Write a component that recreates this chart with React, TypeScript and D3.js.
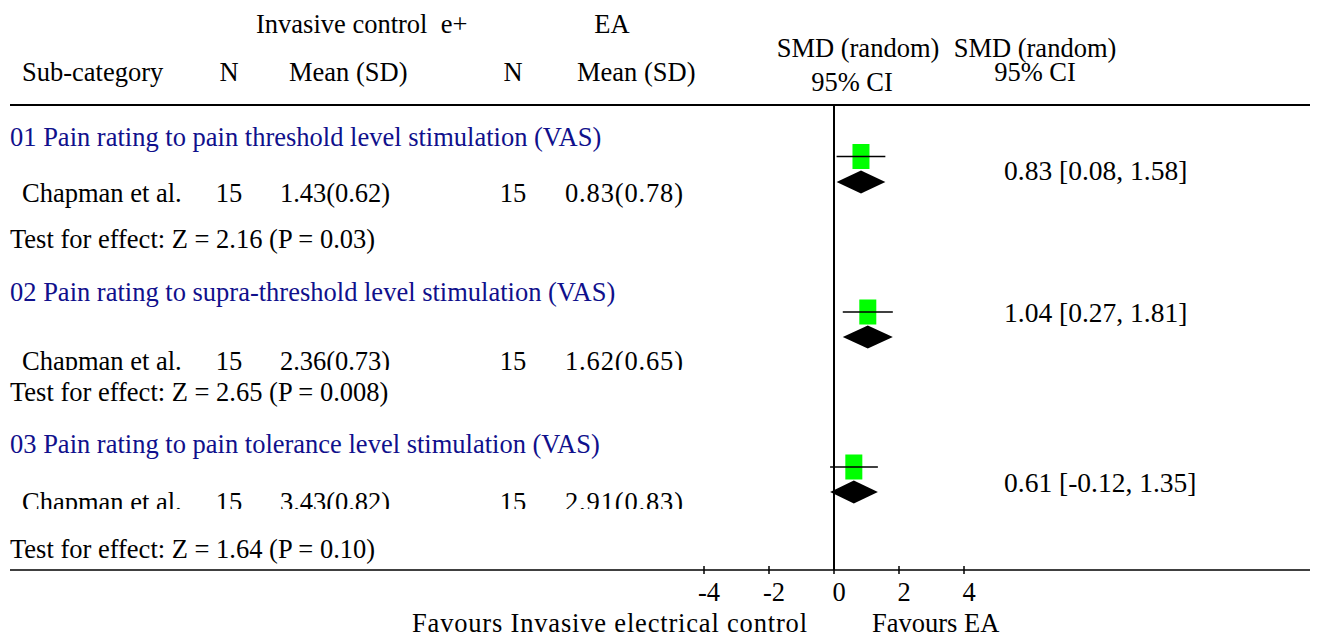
import React from "react";
import * as d3 from "d3";

const groupTitles = [
  "01 Pain rating to pain threshold level stimulation (VAS)",
  "02 Pain rating to supra-threshold level stimulation (VAS)",
  "03 Pain rating to pain tolerance level stimulation (VAS)",
];
const studies = ["Chapman et al.", "Chapman et al.", "Chapman et al."];
const nControl = [15, 15, 15];
const meanSdControl = ["1.43(0.62)", "2.36(0.73)", "3.43(0.82)"];
const nEA = [15, 15, 15];
const meanSdEA = ["0.83(0.78)", "1.62(0.65)", "2.91(0.83)"];
const smd = [0.83, 1.04, 0.61];
const ciLow = [0.08, 0.27, -0.12];
const ciHigh = [1.58, 1.81, 1.35];
const effectTests = [
  "Test for effect: Z = 2.16 (P = 0.03)",
  "Test for effect: Z = 2.65 (P = 0.008)",
  "Test for effect: Z = 1.64 (P = 0.10)",
];
const axisTicks = [-4, -2, 0, 2, 4];
const xDomain = [-4, 4];

// layout (pixel positions per group)
const titleY = [146, 301, 453];
const studyY = [202, 370, 511];
const studyClip = [null, 370, 509];
const testY = [248, 401, 558];
const squareY = [156.5, 312, 467];
const diamondY = [182, 337, 492];
const resultY = [180, 322, 492];

const FONT = "'Liberation Serif', 'Times New Roman', serif";
const FS = 26.5;

export default function App() {
  const x = d3.scaleLinear().domain(xDomain).range([704, 964]);
  const axisY = 570;
  const headerLineY = 105;
  const fmt = (v: number) => v.toFixed(2);
  const diamond = (c: number, lo: number, hi: number, y: number) =>
    d3.line()([
      [x(lo), y],
      [x(c), y - 11.5],
      [x(hi), y],
      [x(c), y + 11.5],
    ]) + "Z";

  return (
    <svg
      width={1317}
      height={637}
      style={{ position: "absolute", left: 0, top: 0, background: "#fff", whiteSpace: "pre" }}
      fontFamily={FONT}
      fontSize={FS}
    >
      <defs>
        {studyClip.map((c, i) =>
          c == null ? null : (
            <clipPath id={`clip${i}`} key={i}>
              <rect x={0} y={0} width={1317} height={c} />
            </clipPath>
          )
        )}
      </defs>
      <rect width={1317} height={637} fill="#fff" />
      {/* headers */}
      <text x={256} y={33} style={{ whiteSpace: "pre" }}>{"Invasive control  e+"}</text>
      <text x={612} y={33} textAnchor="middle">EA</text>
      <text x={22} y={81}>Sub-category</text>
      <text x={229} y={81} textAnchor="middle">N</text>
      <text x={289} y={81}>Mean (SD)</text>
      <text x={513} y={81} textAnchor="middle">N</text>
      <text x={577} y={81}>Mean (SD)</text>
      <text x={858} y={57} textAnchor="middle">SMD (random)</text>
      <text x={852} y={91} textAnchor="middle">95% CI</text>
      <text x={1035} y={57} textAnchor="middle">SMD (random)</text>
      <text x={1035} y={81} textAnchor="middle">95% CI</text>

      <line x1={10} x2={1310} y1={headerLineY} y2={headerLineY} stroke="#000" strokeWidth={2} />
      <line x1={x(0)} x2={x(0)} y1={headerLineY} y2={axisY} stroke="#000" strokeWidth={2} />

      {groupTitles.map((t, i) => (
        <g key={i}>
          <text x={10} y={titleY[i]} fill="#10108c">{t}</text>
          <g clipPath={studyClip[i] == null ? undefined : `url(#clip${i})`}>
            <text x={22} y={studyY[i]}>{studies[i]}</text>
            <text x={229} y={studyY[i]} textAnchor="middle">{nControl[i]}</text>
            <text x={280} y={studyY[i]} textLength={110}>{meanSdControl[i]}</text>
            <text x={513} y={studyY[i]} textAnchor="middle">{nEA[i]}</text>
            <text x={565} y={studyY[i]} textLength={118}>{meanSdEA[i]}</text>
          </g>
          <text x={10} y={testY[i]}>{effectTests[i]}</text>
          <text x={1004} y={resultY[i]} fontSize={27.5}>
            {`${fmt(smd[i])} [${fmt(ciLow[i])}, ${fmt(ciHigh[i])}]`}
          </text>
          <rect
            x={x(smd[i]) - 8.5}
            y={squareY[i] - 12.5}
            width={17}
            height={25}
            fill="#00ff00"
          />
          <line
            x1={x(ciLow[i])}
            x2={x(ciHigh[i])}
            y1={squareY[i]}
            y2={squareY[i]}
            stroke="#000"
            strokeWidth={1.5}
          />
          <path d={diamond(smd[i], ciLow[i], ciHigh[i], diamondY[i])} fill="#000" />
        </g>
      ))}

      {/* axis */}
      <line x1={10} x2={1310} y1={axisY} y2={axisY} stroke="#000" strokeWidth={1.5} />
      {axisTicks.map((t) => (
        <g key={t}>
          <line x1={x(t)} x2={x(t)} y1={axisY - 4} y2={axisY + 4} stroke="#000" strokeWidth={1.5} />
          <text x={x(t) + 5} y={601} textAnchor="middle">{t}</text>
        </g>
      ))}
      <text x={412} y={632} textLength={395}>Favours Invasive electrical control</text>
      <text x={872} y={632}>Favours EA</text>
    </svg>
  );
}
